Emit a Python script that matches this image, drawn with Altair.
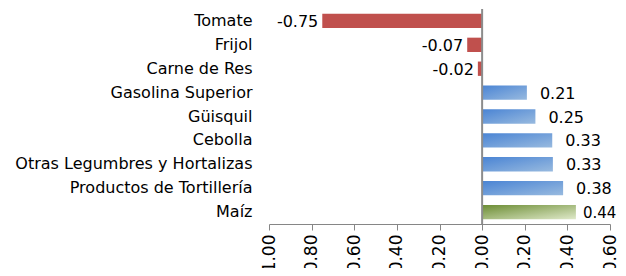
import altair as alt
import pandas as pd

categories = ["Tomate", "Frijol", "Carne de Res", "Gasolina Superior", "Güisquil",
              "Cebolla", "Otras Legumbres y Hortalizas", "Productos de Tortillería", "Maíz"]
values = [-0.75, -0.07, -0.02, 0.21, 0.25, 0.329, 0.332, 0.38, 0.44]
groups = ["neg", "neg", "neg", "pos", "pos", "pos", "pos", "pos", "top"]
x_ticks = [-1.0, -0.8, -0.6, -0.4, -0.2, 0.0, 0.2, 0.4, 0.6]

df = pd.DataFrame({"cat": categories, "val": values, "grp": groups})
df["lbl"] = [f"{v:.2f}" for v in values]

FONT = "DejaVu Sans"

xscale = alt.Scale(domain=[-1.0, 0.6], nice=False, zero=False)
yscale = alt.Scale(domain=categories, paddingInner=0.4, paddingOuter=0.2)

xenc = alt.X("val:Q", scale=xscale,
             axis=alt.Axis(values=x_ticks, format=".2f", labelAngle=-90, grid=False,
                           labelExpr="replace(datum.label, '\u2212', '-')",
                           domainColor="#868686", tickColor="#868686", tickSize=6,
                           labelFont=FONT, labelFontSize=17, labelColor="#000000",
                           labelPadding=4, title=None, labelFlush=False,
                           labelOverlap=False))
yenc = alt.Y("cat:N", scale=yscale, sort=categories,
             axis=alt.Axis(domain=False, ticks=False, labelPadding=17, title=None,
                           labelFont=FONT, labelFontSize=16, labelColor="#000000",
                           labelLimit=400))

base = alt.Chart(df)

red = base.transform_filter(alt.datum.grp == "neg").mark_bar(color="#c0504d").encode(
    x=xenc, x2=alt.datum(0), y=yenc)

blue = base.transform_filter(alt.datum.grp == "pos").mark_bar(
    color=alt.Gradient(gradient="linear", x1=0, y1=0, x2=1, y2=1,
                       stops=[alt.GradientStop(color="#4a84d4", offset=0),
                              alt.GradientStop(color="#98badf", offset=1)])
).encode(x=xenc, x2=alt.datum(0), y=yenc)

green = base.transform_filter(alt.datum.grp == "top").mark_bar(
    color=alt.Gradient(gradient="linear", x1=0, y1=0, x2=1, y2=1,
                       stops=[alt.GradientStop(color="#6b8c33", offset=0),
                              alt.GradientStop(color="#dfe9c9", offset=1)])
).encode(x=xenc, x2=alt.datum(0), y=yenc)

lab_neg = base.transform_filter(alt.datum.val < 0).mark_text(
    align="right", baseline="middle", dx=-4, dy=1, font=FONT, fontSize=16, color="#000000"
).encode(x=xenc, y=yenc, text="lbl:N")

lab_pos = base.transform_filter(alt.datum.grp == "pos").mark_text(
    align="left", baseline="middle", dx=13, dy=1, font=FONT, fontSize=16, color="#000000"
).encode(x=xenc, y=yenc, text="lbl:N")

lab_top = base.transform_filter(alt.datum.grp == "top").mark_text(
    align="left", baseline="middle", dx=7, dy=1, font=FONT, fontSize=15, color="#000000"
).encode(x=xenc, y=yenc, text="lbl:N")

zero = alt.Chart(pd.DataFrame({"z": [0.0]})).mark_rule(color="#8c8c8c", strokeWidth=2).encode(
    x=alt.X("z:Q", scale=xscale))

chart = alt.layer(red, blue, green, zero, lab_neg, lab_pos, lab_top).properties(
    width=341, height=215,
    autosize=alt.AutoSizeParams(type="none"),
    padding={"left": 261, "top": 1, "right": 8, "bottom": 44},
).configure_view(strokeWidth=0, stroke=None)

chart.save("out.html", embed_options={"renderer": "svg", "actions": False})
